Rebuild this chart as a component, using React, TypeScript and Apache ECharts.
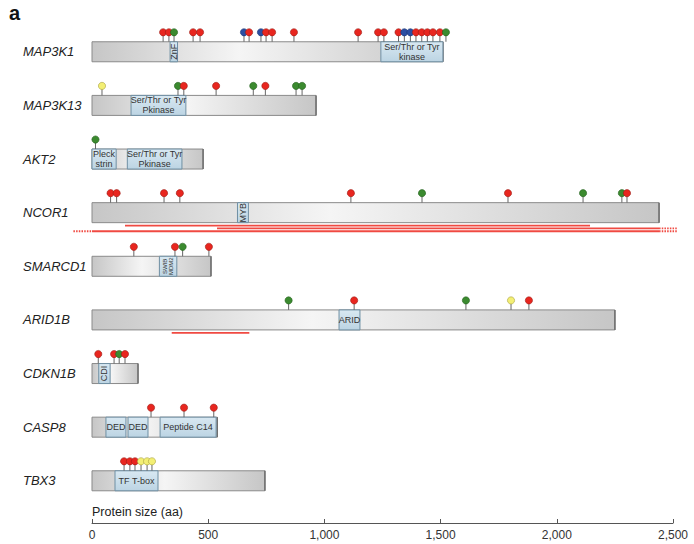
import React, { useEffect, useRef } from "react";
import * as echarts from "echarts";

// ---------- data ----------
const genes = ["MAP3K1", "MAP3K13", "AKT2", "NCOR1", "SMARCD1", "ARID1B", "CDKN1B", "CASP8", "TBX3"];
const proteinLengths = [1510, 964, 478, 2440, 512, 2250, 198, 539, 744];

// [geneIndex, start, end, label]
const domains: [number, number, number, string][] = [
  [0, 336, 368, "ZnF"],
  [0, 1243, 1510, "Ser/Thr or Tyr\nkinase"],
  [1, 168, 404, "Ser/Thr or Tyr\nPkinase"],
  [2, 0, 104, "Pleck\nstrin"],
  [2, 152, 387, "Ser/Thr or Tyr\nPkinase"],
  [3, 626, 673, "MYB"],
  [4, 290, 365, "SWIB\nMDM2"],
  [5, 1063, 1153, "ARID"],
  [6, 29, 78, "CDI"],
  [7, 60, 146, "DED"],
  [7, 155, 241, "DED"],
  [7, 293, 534, "Peptide C14"],
  [8, 99, 284, "TF T-box"],
];
const verticalLabels = ["ZnF", "MYB", "SWIB\nMDM2", "CDI"];

// mutations: [position, class]
const mutMAP3K1: [number, string][] = [
  [306, "r"], [331, "r"], [353, "g"], [435, "r"], [465, "r"], [654, "b"], [676, "r"], [727, "b"],
  [749, "r"], [775, "r"], [869, "r"], [1145, "r"], [1231, "r"], [1256, "r"], [1319, "r"], [1344, "b"],
  [1370, "b"], [1394, "r"], [1419, "r"], [1443, "r"], [1467, "r"], [1497, "r"], [1523, "g"],
];
const mutMAP3K13: [number, string][] = [[43, "y"], [370, "g"], [395, "r"], [534, "r"], [694, "g"], [746, "r"], [878, "g"], [904, "g"]];
const mutAKT2: [number, string][] = [[15, "g"]];
const mutNCOR1: [number, string][] = [[80, "r"], [106, "r"], [310, "r"], [378, "r"], [1114, "r"], [1420, "g"], [1790, "r"], [2113, "g"], [2280, "g"], [2302, "r"]];
const mutSMARCD1: [number, string][] = [[180, "r"], [357, "r"], [390, "g"], [503, "r"]];
const mutARID1B: [number, string][] = [[846, "g"], [1128, "r"], [1609, "g"], [1803, "y"], [1880, "r"]];
const mutCDKN1B: [number, string][] = [[27, "r"], [95, "r"], [117, "g"], [142, "r"]];
const mutCASP8: [number, string][] = [[254, "r"], [396, "r"], [524, "r"]];
const mutTBX3: [number, string][] = [[138, "r"], [163, "r"], [185, "r"], [211, "y"], [237, "y"], [258, "y"]];
const mutations = [mutMAP3K1, mutMAP3K13, mutAKT2, mutNCOR1, mutSMARCD1, mutARID1B, mutCDKN1B, mutCASP8, mutTBX3];

// deletions: [geneIndex, start, end, lane, continuesLeft, continuesRight]
const deletions: [number, number, number, number, boolean, boolean][] = [
  [3, 142, 2143, 0, false, false],
  [3, 538, 2440, 1, false, true],
  [3, 0, 2440, 2, true, true],
  [5, 343, 677, 0, false, false],
];

const xTicks = [0, 500, 1000, 1500, 2000, 2500];

// ---------- styles ----------
const MUT_FILL: Record<string, string> = { r: "#e8261f", g: "#3b8a2f", b: "#2b4ea2", y: "#f3ef74" };
const MUT_STROKE: Record<string, string> = { r: "#9c1c16", g: "#24601d", b: "#1b3270", y: "#a8a040" };
const FONT = '"Liberation Sans", Arial, Helvetica, sans-serif';
const BAR_H = 20;

export default function App() {
  const ref = useRef<HTMLDivElement>(null);
  useEffect(() => {
    if (!ref.current) return;
    const chart = echarts.init(ref.current, undefined, { renderer: "svg" });

    const barData = genes.map((_, i) => [proteinLengths[i], i]);
    const domainData = domains.map((d) => [d[1], d[2], d[0]]);
    const mutFlat: { pos: number; row: number; cls: string }[] = [];
    mutations.forEach((list, row) => list.forEach(([pos, cls]) => mutFlat.push({ pos, row, cls })));
    const mutData = mutFlat.map((m) => [m.pos, m.row]);
    const delData = deletions.map((d) => [d[1], d[2], d[0]]);

    const barFill = new echarts.graphic.LinearGradient(0, 0, 1, 0, [
      { offset: 0, color: "#c6c6c6" },
      { offset: 0.42, color: "#f5f5f5" },
      { offset: 1, color: "#c6c6c6" },
    ]);
    const domFill = new echarts.graphic.LinearGradient(0, 0, 0, 1, [
      { offset: 0, color: "#d8e8f2" },
      { offset: 1, color: "#bcd4e3" },
    ]);

    const option: any = {
      animation: false,
      grid: { left: 92, right: 21, top: 24, bottom: 21 },
      xAxis: {
        type: "value",
        min: 0,
        max: 2500,
        interval: 500,
        axisLine: { onZero: false, lineStyle: { color: "#555", width: 1 } },
        axisTick: { inside: true, length: 4, lineStyle: { color: "#555" } },
        axisLabel: {
          color: "#333",
          fontSize: 12,
          fontFamily: FONT,
          margin: 6,
          formatter: (v: number) => (xTicks.includes(v) ? v.toLocaleString("en-US") : ""),
        },
        splitLine: { show: false },
      },
      yAxis: { type: "value", inverse: true, min: -0.518, max: 8.787, show: false },
      graphic: [
        { type: "text", left: 9, top: 3, style: { text: "a", font: `bold 20px ${FONT}`, fill: "#111" } },
        { type: "text", left: 92, top: 505, style: { text: "Protein size (aa)", font: `12.5px ${FONT}`, fill: "#222" } },
      ],
      series: [
        {
          type: "custom",
          name: "deletions",
          z: 1,
          clip: false,
          data: delData,
          renderItem: (params: any, api: any) => {
            const d = deletions[params.dataIndex];
            const p0 = api.coord([api.value(0), api.value(2)]);
            const p1 = api.coord([api.value(1), api.value(2)]);
            const y = p0[1] + BAR_H / 2 + 3 + d[3] * 2.8;
            const ext = api.size([80, 0])[0];
            const children: any[] = [
              { type: "line", shape: { x1: p0[0], y1: y, x2: p1[0], y2: y }, style: { stroke: "#f04a42", lineWidth: 1.8 } },
            ];
            if (d[4])
              children.push({ type: "line", shape: { x1: p0[0] - ext, y1: y, x2: p0[0], y2: y }, style: { stroke: "#f04a42", lineWidth: 1.8, lineDash: [1.5, 1.2] } });
            if (d[5])
              children.push({ type: "line", shape: { x1: p1[0], y1: y, x2: p1[0] + ext, y2: y }, style: { stroke: "#f04a42", lineWidth: 1.8, lineDash: [1.5, 1.2] } });
            return { type: "group", children };
          },
        },
        {
          type: "custom",
          name: "proteins",
          z: 2,
          clip: false,
          data: barData,
          renderItem: (params: any, api: any) => {
            const row = api.value(1);
            const p0 = api.coord([0, row]);
            const p1 = api.coord([api.value(0), row]);
            return {
              type: "group",
              children: [
                {
                  type: "rect",
                  shape: { x: p0[0], y: p0[1] - BAR_H / 2, width: p1[0] - p0[0], height: BAR_H },
                  style: { fill: barFill, stroke: "#8a8a8a", lineWidth: 1 },
                },
                {
                  type: "line",
                  shape: { x1: p1[0], y1: p0[1] - BAR_H / 2, x2: p1[0], y2: p0[1] + BAR_H / 2 },
                  style: { stroke: "#6e6e6e", lineWidth: 1.5 },
                },
                {
                  type: "text",
                  x: 23,
                  y: p0[1],
                  style: {
                    text: genes[params.dataIndex],
                    font: `italic 13px ${FONT}`,
                    fill: "#222",
                    align: "left",
                    verticalAlign: "middle",
                    textAlign: "left",
                    textVerticalAlign: "middle",
                  },
                },
              ],
            };
          },
        },
        {
          type: "custom",
          name: "domains",
          z: 3,
          clip: false,
          data: domainData,
          renderItem: (params: any, api: any) => {
            const label = domains[params.dataIndex][3];
            const row = api.value(2);
            const p0 = api.coord([api.value(0), row]);
            const p1 = api.coord([api.value(1), row]);
            const vertical = verticalLabels.includes(label);
            return {
              type: "group",
              children: [
                {
                  type: "rect",
                  shape: { x: p0[0], y: p0[1] - BAR_H / 2, width: p1[0] - p0[0], height: BAR_H },
                  style: { fill: domFill, stroke: "#6f8fa3", lineWidth: 1 },
                },
                {
                  type: "text",
                  x: (p0[0] + p1[0]) / 2,
                  y: p0[1],
                  rotation: vertical ? Math.PI / 2 : 0,
                  style: {
                    text: label,
                    font: `${vertical && label.includes("\n") ? 6 : 9}px ${FONT}`,
                    lineHeight: vertical && label.includes("\n") ? 6.5 : 10,
                    fill: "#333",
                    align: "center",
                    verticalAlign: "middle",
                    textAlign: "center",
                    textVerticalAlign: "middle",
                  },
                },
              ],
            };
          },
        },
        {
          type: "custom",
          name: "mutations",
          z: 4,
          clip: false,
          data: mutData,
          renderItem: (params: any, api: any) => {
            const m = mutFlat[params.dataIndex];
            const p = api.coord([api.value(0), api.value(1)]);
            const top = p[1] - BAR_H / 2;
            const cy = top - 9.5;
            return {
              type: "group",
              children: [
                { type: "line", shape: { x1: p[0], y1: cy, x2: p[0], y2: top }, style: { stroke: "#666", lineWidth: 1 } },
                {
                  type: "circle",
                  shape: { cx: p[0], cy, r: 3.6 },
                  style: { fill: MUT_FILL[m.cls], stroke: MUT_STROKE[m.cls], lineWidth: 0.6 },
                },
              ],
            };
          },
        },
      ],
    };
    chart.setOption(option);
    return () => chart.dispose();
  }, []);

  return (
    <div
      ref={ref}
      style={{ position: "fixed", left: 0, top: 0, width: 694, height: 544, background: "#fff" }}
    />
  );
}
